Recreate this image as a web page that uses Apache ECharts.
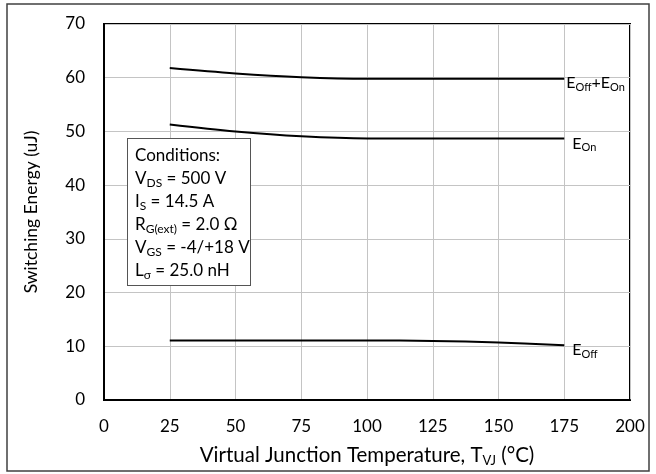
<!DOCTYPE html>
<html><head><meta charset="utf-8">
<script src="https://cdn.jsdelivr.net/npm/echarts@6/dist/echarts.min.js"></script>
<style>html,body{margin:0;padding:0;background:#fff}#c{width:656px;height:474px}</style>
</head><body><div id="c"></div>
<script>
const temps = [25, 50, 75, 100, 125, 150, 175];
const eOff = [11.1, 11.1, 11.1, 11.1, 11.0, 10.7, 10.2];
const eOn = [51.3, 50.0, 49.1, 48.7, 48.7, 48.7, 48.7];
const eTotal = [61.8, 60.8, 60.1, 59.8, 59.8, 59.8, 59.8];
const xTicks = [0, 25, 50, 75, 100, 125, 150, 175, 200];
const yTicks = [0, 10, 20, 30, 40, 50, 60, 70];
const conditions = [
  ['Conditions:', ''],
  ['V', 'DS', ' = 500 V'],
  ['I', 'S', ' = 14.5 A'],
  ['R', 'G(ext)', ' = 2.0 Ω'],
  ['V', 'GS', ' = -4/+18 V'],
  ['L', 'σ', ' = 25.0 nH']
];
const FONT = 'Lato, Carlito, "Open Sans", sans-serif';
const rich = {
  n: {fontSize: 17, fontFamily: FONT, color: '#000', lineHeight: 23, verticalAlign: 'middle'},
  s: {fontSize: 12, fontFamily: FONT, color: '#000', lineHeight: 23, verticalAlign: 'bottom', padding: [0,0,1,0]}
};
const lblRich = {
  n: {fontSize: 16, fontFamily: FONT, color: '#000', lineHeight: 22, verticalAlign: 'middle'},
  s: {fontSize: 11, fontFamily: FONT, color: '#000', lineHeight: 22, verticalAlign: 'bottom', padding: [0,0,1,0]}
};
function mk(name, data, lbl, off) {
  return {
    name, type: 'line', smooth: 0.35, symbol: 'none',
    data: temps.map((t, i) => [t, data[i]]),
    lineStyle: {color: '#000', width: 2},
    endLabel: {show: true, formatter: lbl, rich: lblRich, offset: off}
  };
}
const condText = conditions.map(r => r.length === 2 ? '{n|' + r[0] + '}' : '{n|' + r[0] + '}{s|' + r[1] + '}{n|' + r[2] + '}').join('\n');
const chart = echarts.init(document.getElementById('c'));
chart.setOption({
  animation: false,
  grid: {left: 104, right: 26, top: 24, bottom: 74, show: true, borderColor: '#000', borderWidth: 2, outerBoundsMode: 'none', containLabel: false},
  xAxis: {
    type: 'value', min: 0, max: 200, interval: 25,
    axisLine: {show: true, lineStyle: {color: '#000', width: 2}},
    axisTick: {show: false},
    splitLine: {show: true, lineStyle: {color: '#c4c4c4', width: 1}},
    axisLabel: {color: '#000', fontSize: 17, fontFamily: FONT, margin: 18,
      formatter: v => xTicks.includes(v) ? String(v) : ''},
    name: '{n|Virtual Junction Temperature, T}{s|VJ}{n| (°C)}',
    nameLocation: 'middle', nameGap: 42,
    nameTextStyle: {rich: {n: {fontSize: 20.5, fontFamily: FONT, color: '#000', lineHeight: 26, verticalAlign: 'middle'}, s: {fontSize: 13, fontFamily: FONT, color: '#000', lineHeight: 26, verticalAlign: 'bottom', padding: [0,0,1,0]}}}
  },
  yAxis: {
    type: 'value', min: 0, max: 70, interval: 10,
    axisLine: {show: true, lineStyle: {color: '#000', width: 2}},
    axisTick: {show: false},
    splitLine: {show: true, lineStyle: {color: '#c4c4c4', width: 1}},
    axisLabel: {color: '#000', fontSize: 17, fontFamily: FONT, margin: 19,
      formatter: v => yTicks.includes(v) ? String(v) : ''},
    name: 'Switching Energy (uJ)', nameLocation: 'middle', nameGap: 64,
    nameTextStyle: {color: '#000', fontSize: 17.5, fontFamily: FONT}
  },
  graphic: [
    {type: 'rect', shape: {x: 7, y: 4, width: 642, height: 467}, style: {fill: 'none', stroke: '#404040', lineWidth: 1.5}, silent: true, z: 0},
    {type: 'text', left: 127, top: 138, z: 100,
      style: {text: condText, rich, backgroundColor: '#fff', borderColor: '#555', borderWidth: 1, padding: [5, 8, 3, 7], width: 107}}
  ],
  series: [
    mk('Total', eTotal, '{n|E}{s|Off}{n|+E}{s|On}', [-6, 4]),
    mk('On', eOn, '{n|E}{s|On}', [0, 5]),
    mk('Off', eOff, '{n|E}{s|Off}', [0, 5])
  ]
});
</script></body></html>
